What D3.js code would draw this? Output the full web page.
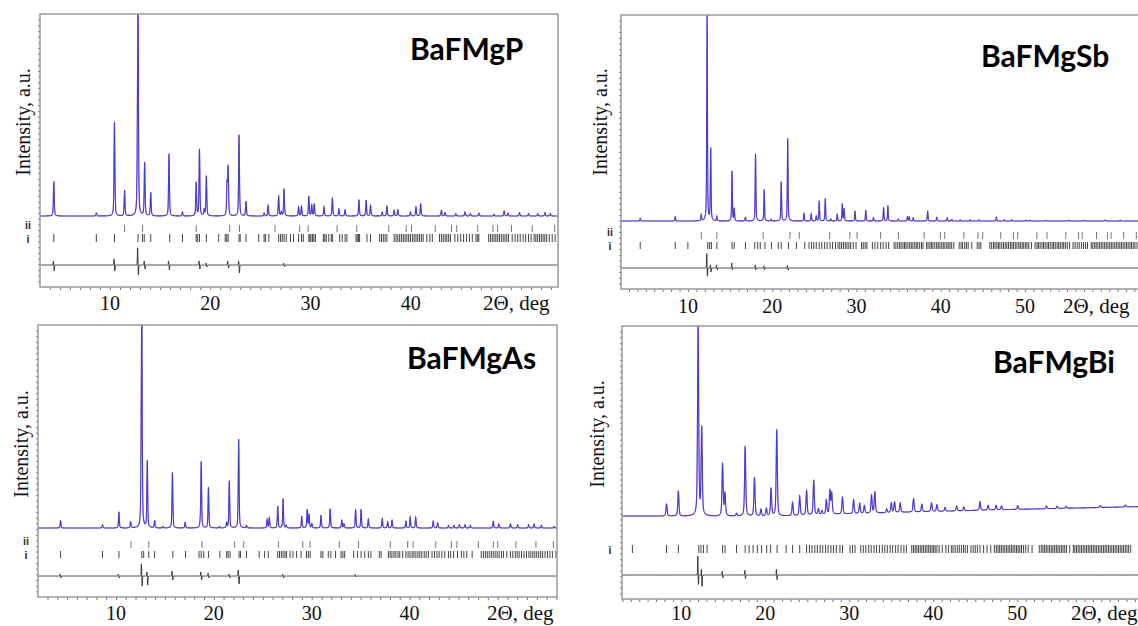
<!DOCTYPE html>
<html>
<head>
<meta charset="utf-8">
<script src="https://d3js.org/d3.v7.min.js"></script>
<style>
  body { margin: 0; background: #fff; }
  svg { display: block; }
</style>
</head>
<body>
<div id="chart"></div>
<script>
// ---- data (2theta in deg, intensity relative to strongest peak) ----

// BaFMgP
const pRange = [3.02, 54.7];
const pPeaks = [[4.40,0.17],[8.64,0.015],[10.45,0.466],[11.46,0.127],[12.74,0.2],[12.80,1.0],[13.46,0.264],[14.07,0.116],[15.89,0.309],[17.23,0.02],[18.60,0.165],[18.93,0.33],[19.40,0.03],[19.62,0.198],[21.68,0.155],[21.79,0.235],[22.88,0.403],[23.57,0.073],[25.38,0.015],[25.78,0.053],[26.83,0.1],[27.10,0.02],[27.37,0.135],[28.82,0.045],[29.11,0.048],[29.84,0.098],[30.13,0.053],[30.38,0.06],[31.36,0.045],[32.19,0.09],[32.84,0.036],[33.46,0.031],[34.84,0.081],[35.56,0.078],[36.0,0.053],[37.16,0.02],[37.63,0.048],[38.35,0.028],[38.72,0.031],[39.98,0.02],[40.53,0.045],[41.0,0.061],[43.07,0.028],[43.43,0.017],[44.51,0.012],[45.42,0.02],[45.96,0.012],[46.8,0.015],[48.32,0.008],[49.33,0.025],[49.7,0.015],[50.86,0.017],[51.76,0.012],[52.67,0.012],[53.39,0.017],[53.94,0.012]];
const pTicksI = [4.40,8.64,10.45,12.80,13.24,13.42,14.07,15.96,17.23,18.60,18.75,18.93,19.62,20.85,21.50,21.65,21.79,22.88,22.99,23.57,24.84,25.38,25.53,25.85,26.83,27.01,27.19,27.37,27.59,28.02,28.31,28.82,29.11,29.29,29.84,29.95,30.05,30.20,30.34,30.49,31.29,31.43,31.58,31.83,32.08,32.19,32.92,33.17,33.46,33.64,34.55,34.66,34.80,34.91,35.64,36.00,36.90,37.09,37.27,37.45,37.63,38.35,38.54,38.72,38.90,39.08,39.26,39.44,39.62,39.80,39.98,40.17,40.35,40.53,40.71,40.89,41.07,41.25,41.61,41.91,42.16,42.88,43.07,43.25,43.43,43.61,43.79,43.97,44.41,44.70,44.99,45.28,45.57,45.86,46.15,46.51,46.69,46.80,47.78,47.96,48.14,48.32,48.50,48.68,48.86,49.04,49.23,49.41,49.59,49.77,50.13,50.42,50.68,50.93,51.22,51.47,51.76,52.02,52.31,52.49,52.67,52.85,53.03,53.21,53.39,53.57,53.83,54.12,54.41];
const pTicksII = [11.46,13.24,18.60,21.94,22.92,26.47,28.93,29.77,32.66,34.62,37.81,39.55,40.09,42.45,44.08,44.59,46.69,48.21,48.68,50.06,52.13,54.37];
const pDiff = [[4.40,0.02,0.03],[10.45,0.03,0.03],[12.80,0.085,0.05],[13.46,0.02,0.02],[15.89,0.02,0.025],[18.93,0.02,0.02],[19.62,0.01,0.01],[21.79,0.02,0.015],[22.88,0.02,0.04],[27.37,0.01,0.01]];

// BaFMgSb
const sbRange = [2.05, 64.25];
const sbPeaks = [[4.33,0.013],[8.49,0.021],[11.58,0.03],[12.27,1.0],[12.70,0.35],[13.43,0.02],[15.23,0.24],[15.49,0.06],[16.82,0.018],[18.02,0.326],[19.05,0.154],[19.87,0.008],[21.07,0.19],[21.84,0.40],[23.77,0.037],[24.63,0.034],[25.23,0.024],[25.58,0.097],[26.30,0.11],[26.95,0.01],[27.72,0.032],[28.32,0.083],[28.54,0.06],[29.83,0.049],[31.11,0.053],[32.02,0.016],[33.22,0.066],[33.73,0.075],[34.98,0.01],[36.05,0.021],[36.27,0.02],[36.74,0.016],[38.45,0.049],[39.53,0.018],[40.77,0.016],[41.33,0.008],[42.32,0.006],[43.48,0.006],[44.55,0.006],[46.61,0.018],[47.56,0.006],[48.41,0.006],[50.13,0.005],[50.6,0.004],[52.5,0.004],[55.2,0.004],[57.0,0.004],[59.5,0.005],[61.3,0.004]];
const sbTicksI = [4.33,8.49,9.99,12.35,12.57,12.78,13.43,15.23,15.49,16.82,17.93,18.28,18.58,19.14,19.91,20.72,21.07,21.93,22.87,23.86,24.37,24.67,24.93,25.23,25.58,25.88,26.22,26.52,26.86,27.16,27.51,27.81,28.02,28.24,28.45,28.67,28.88,29.10,29.31,29.61,29.95,30.60,30.81,31.03,31.24,31.89,32.19,32.53,32.87,33.17,33.52,33.82,34.46,34.68,34.9,35.12,35.3,35.52,35.7,35.88,36.1,36.32,36.5,36.7,36.92,37.1,37.28,37.5,37.72,37.9,38.33,38.5,38.72,38.9,39.08,39.3,39.52,39.7,39.9,40.12,40.3,40.5,40.72,40.9,41.1,41.3,41.55,42.19,42.42,42.6,42.85,43.05,43.26,43.69,44.34,44.55,44.76,45.84,46.05,46.27,46.45,46.66,46.85,47.03,47.25,47.45,47.66,47.85,48.05,48.27,48.45,48.64,48.85,49.05,49.27,49.45,49.66,49.85,50.05,50.24,50.45,50.77,51.2,51.42,51.6,51.8,52.02,52.2,52.4,52.62,52.8,53.0,53.22,53.4,53.6,53.82,54.0,54.2,54.42,54.6,54.8,55.02,55.28,55.71,55.95,56.2,56.45,56.7,56.95,57.2,57.43,57.86,58.05,58.27,58.45,58.65,58.86,59.05,59.25,59.46,59.65,59.85,60.06,60.25,60.45,60.66,60.85,61.05,61.26,61.45,61.65,61.86,62.05,62.25,62.46,62.65,62.85,63.05,63.3];
const sbTicksII = [11.58,13.43,18.92,22.10,23.21,26.82,29.22,30.08,32.87,34.98,38.03,39.96,40.47,42.75,44.42,44.98,47.13,48.63,49.14,51.42,52.62,54.85,56.36,56.79,58.50,59.79,60.22,61.72,63.22];
const sbDiff = [[12.27,0.07,0.04],[12.70,0.015,0.02],[13.43,0.015,0.01],[15.23,0.025,0.01],[18.02,0.015,0.01],[19.05,0.01,0.01],[21.84,0.012,0.01]];

// BaFMgAs
const asRange = [2.03, 55.07];
const asPeaks = [[4.34,0.035],[8.62,0.016],[10.30,0.079],[11.49,0.03],[12.58,0.25],[12.64,1.0],[13.20,0.33],[13.95,0.035],[14.8,0.008],[15.77,0.273],[17.07,0.028],[18.6,0.015],[18.71,0.326],[19.45,0.2],[20.57,0.008],[21.31,0.025],[21.58,0.232],[22.54,0.438],[23.33,0.013],[25.45,0.043],[25.67,0.05],[26.53,0.108],[27.08,0.145],[27.4,0.013],[28.98,0.058],[29.54,0.09],[29.73,0.067],[30.02,0.021],[30.95,0.063],[31.89,0.095],[33.08,0.038],[33.30,0.02],[34.49,0.09],[35.05,0.092],[35.79,0.043],[37.21,0.046],[37.77,0.03],[38.21,0.038],[39.63,0.033],[40.07,0.054],[40.63,0.054],[42.42,0.035],[42.87,0.025],[43.98,0.013],[44.54,0.013],[45.10,0.016],[45.66,0.016],[46.22,0.013],[48.56,0.033],[49.12,0.02],[50.31,0.02],[51.05,0.016],[52.17,0.016],[52.73,0.02],[53.47,0.013],[54.78,0.008]];
const asTicksI = [4.34,8.62,10.30,12.64,12.83,13.35,13.95,15.81,17.11,18.49,18.71,18.97,19.45,20.61,21.31,21.46,21.65,22.58,22.73,23.33,24.63,25.19,25.56,26.53,26.71,26.90,27.08,27.27,27.42,27.79,28.09,28.46,28.91,29.47,29.65,29.84,30.95,31.14,31.70,31.96,32.44,33.00,33.19,33.37,34.30,34.68,35.05,35.42,35.79,36.05,36.91,37.10,37.84,38.02,38.2,38.41,38.6,38.82,39.0,39.3,39.63,39.85,40.05,40.27,40.45,40.65,40.86,41.05,41.25,41.5,41.7,41.93,42.3,42.55,42.8,43.02,43.3,43.6,43.98,44.2,44.5,44.9,45.3,45.55,45.85,46.4,47.33,47.55,47.75,47.95,48.15,48.36,48.55,48.75,48.95,49.15,49.4,49.6,49.94,50.31,50.55,50.8,51.0,51.2,51.45,51.7,51.95,52.2,52.4,52.6,52.8,53.0,53.2,53.4,53.6,53.85,54.1,54.35,54.6,54.96];
const asTicksII = [11.53,13.35,18.78,22.13,23.06,26.60,29.09,29.84,32.82,34.79,38.03,39.81,40.37,42.68,44.28,44.84,47.03,48.56,49.01,50.87,52.92,54.70];
const asDiff = [[4.34,0.01,0.01],[10.30,0.01,0.01],[12.64,0.06,0.05],[13.20,0.02,0.045],[15.77,0.025,0.02],[18.71,0.02,0.02],[19.45,0.015,0.01],[21.58,0.01,0.01],[22.54,0.03,0.04],[27.08,0.01,0.01],[34.49,0.008,0.005]];

// BaFMgBi
const biRange = [2.95, 65.2];
const biPeaks = [[8.25,0.063],[9.66,0.132],[12.01,1.0],[12.44,0.458],[14.92,0.274],[15.21,0.116],[16.58,0.014],[17.61,0.365],[18.72,0.204],[19.49,0.035],[20.13,0.039],[20.69,0.146],[21.37,0.453],[23.25,0.07],[24.10,0.102],[24.92,0.128],[25.77,0.184],[26.33,0.03],[26.75,0.02],[27.27,0.075],[27.69,0.123],[27.91,0.11],[29.19,0.088],[30.52,0.072],[31.24,0.054],[31.80,0.04],[32.65,0.093],[33.04,0.11],[34.45,0.02],[35.00,0.05],[35.39,0.055],[36.07,0.05],[37.65,0.07],[38.64,0.04],[39.79,0.045],[40.43,0.035],[41.41,0.02],[42.78,0.025],[43.64,0.02],[45.56,0.045],[46.54,0.025],[47.48,0.025],[48.12,0.02],[50.05,0.02],[53.47,0.015],[54.75,0.012],[55.82,0.01],[59.88,0.01],[62.87,0.01]];
const biBackground = [[2.95,0],[22,0],[30,0.012],[40,0.024],[50,0.035],[65.2,0.05]];
const biTicksI = [4.19,8.25,9.66,12.09,12.35,12.65,13.08,14.92,15.21,16.58,17.61,18.08,18.55,19.06,19.57,20.17,20.64,21.41,22.48,23.25,24.10,24.92,25.26,25.56,25.90,26.20,26.54,26.84,27.18,27.48,27.82,28.12,28.46,28.89,29.19,30.09,30.39,30.69,31.37,31.67,31.97,32.31,32.61,32.95,33.25,33.59,33.93,34.23,34.53,34.87,35.17,35.52,35.81,36.16,36.50,36.80,37.44,37.65,37.85,38.05,38.25,38.45,38.65,38.85,39.05,39.25,39.45,39.65,39.85,40.05,40.22,40.43,40.7,41.07,41.5,41.8,42.14,42.35,42.6,42.85,43.1,43.35,43.6,43.8,44.06,44.49,44.75,45.0,45.25,45.56,45.99,46.4,46.84,47.27,47.5,47.7,47.9,48.1,48.3,48.5,48.7,48.9,49.1,49.3,49.5,49.7,49.9,50.1,50.3,50.5,50.75,51.0,51.3,51.76,52.61,52.85,53.05,53.25,53.45,53.65,53.85,54.05,54.25,54.45,54.65,54.85,55.05,55.25,55.45,55.65,55.85,56.24,56.67,56.85,57.05,57.25,57.45,57.65,57.85,58.05,58.25,58.45,58.65,58.85,59.05,59.25,59.45,59.65,59.85,60.05,60.25,60.45,60.65,60.85,61.05,61.25,61.45,61.65,61.85,62.05,62.25,62.45,62.65,62.85,63.05,63.25,63.5];
const biDiff = [[12.01,0.1,0.05],[12.44,0.03,0.06],[14.92,0.02,0.015],[17.61,0.025,0.02],[21.37,0.03,0.025]];

const labelsPI = [10, 20, 30, 40];
const labelsSbBi = [10, 20, 30, 40, 50];

// ---- layout ----
const width = 1138, height = 626;
const panels = [
  {name: "BaFMgP", range: pRange, peaks: pPeaks, ticksI: pTicksI, ticksII: pTicksII, diff: pDiff, labels: labelsPI, fwhm: 0.1,
   left: 40, right: 558, top: 14, bottom: 287, base: 216, rowII: [225, 232], rowI: [234, 242], zero: 265,
   titleX: 410, titleY: 60, yLabX: 30, yLabY: 122, rowLabX: 28, tickY: 310, xLabX: 483},
  {name: "BaFMgSb", range: sbRange, peaks: sbPeaks, ticksI: sbTicksI, ticksII: sbTicksII, diff: sbDiff, labels: labelsSbBi, fwhm: 0.1,
   left: 621, right: 1145, top: 15, bottom: 289, base: 221, rowII: [232, 239], rowI: [242, 249], zero: 268,
   titleX: 981, titleY: 67, yLabX: 607, yLabY: 122, rowLabX: 610, tickY: 313, xLabX: 1063},
  {name: "BaFMgAs", range: asRange, peaks: asPeaks, ticksI: asTicksI, ticksII: asTicksII, diff: asDiff, labels: labelsPI, fwhm: 0.1,
   left: 38, right: 557, top: 325, bottom: 597, base: 528, rowII: [541, 548], rowI: [551, 558], zero: 576,
   titleX: 407, titleY: 369, yLabX: 28, yLabY: 444, rowLabX: 26, tickY: 620, xLabX: 487},
  {name: "BaFMgBi", range: biRange, peaks: biPeaks, ticksI: biTicksI, ticksII: null, diff: biDiff, bg: biBackground, labels: labelsSbBi, fwhm: 0.16,
   left: 622, right: 1145, top: 326, bottom: 599, base: 516, rowII: null, rowI: [545, 553], zero: 575,
   titleX: 993, titleY: 373, yLabX: 604, yLabY: 434, rowLabX: 610, tickY: 620, xLabX: 1071}
];

const svg = d3.select("#chart").append("svg")
  .attr("width", width)
  .attr("height", height);

// pseudo-Voigt peak shape
function pv(dx, w) {
  const t = 4 * (dx / w) * (dx / w);
  return 0.5 / (1 + t) + 0.5 * Math.exp(-Math.LN2 * t);
}

// difference: a spike up then a spike down at each misfit
function diffAt(list, x) {
  let s = 0;
  list.forEach(([c, up, down]) => {
    const a = (x - c + 0.04) / 0.035, b = (x - c - 0.04) / 0.035;
    s += up * Math.exp(-a * a) - down * Math.exp(-b * b);
  });
  return s;
}

const serif = "'Liberation Serif', 'Times New Roman', serif";

panels.forEach((p, i) => {
  const x = d3.scaleLinear().domain(p.range).range([p.left, p.right]);
  const y = d3.scaleLinear().domain([0, 1]).range([p.base, p.top]);
  const bgScale = p.bg ? d3.scaleLinear().domain(p.bg.map(d => d[0])).range(p.bg.map(d => d[1])) : () => 0;

  const grid = d3.range(p.range[0], p.range[1], 0.01);
  const calc = grid.map(t => {
    let s = bgScale(t);
    p.peaks.forEach(([c, h]) => {
      const dx = t - c;
      if (Math.abs(dx) < 1.5) s += h * pv(dx, p.fwhm);
    });
    return s;
  });
  const dif = grid.map(t => diffAt(p.diff, t));
  const obs = calc.map((v, k) => v + dif[k]);

  const g = svg.append("g");
  const clipId = "clip" + i;
  g.append("clipPath").attr("id", clipId)
    .append("rect").attr("x", p.left).attr("y", p.top)
    .attr("width", p.right - p.left).attr("height", p.bottom - p.top);

  const plot = g.append("g").attr("clip-path", `url(#${clipId})`);

  const line = d3.line().x((d, k) => x(grid[k])).y(d => y(d));

  plot.append("path").datum(obs)
    .attr("fill", "none").attr("stroke", "#e050e0").attr("stroke-width", 0.7)
    .attr("d", line);
  plot.append("path").datum(calc)
    .attr("fill", "none").attr("stroke", "#3f3fd2").attr("stroke-width", 1.1)
    .attr("d", line);

  // difference curve
  const dline = d3.line().x((d, k) => x(grid[k])).y(d => p.zero - (p.base - y(d)));
  plot.append("path").datum(dif)
    .attr("fill", "none").attr("stroke", "#333").attr("stroke-width", 1)
    .attr("d", dline);

  // reflection marks
  plot.append("g").selectAll("line").data(p.ticksI).enter().append("line")
    .attr("x1", d => x(d)).attr("x2", d => x(d))
    .attr("y1", p.rowI[0]).attr("y2", p.rowI[1])
    .attr("stroke", "#444").attr("stroke-width", 1);
  if (p.ticksII) {
    plot.append("g").selectAll("line").data(p.ticksII).enter().append("line")
      .attr("x1", d => x(d)).attr("x2", d => x(d))
      .attr("y1", p.rowII[0]).attr("y2", p.rowII[1])
      .attr("stroke", "#777").attr("stroke-width", 1);
    g.append("text").attr("x", p.rowLabX).attr("y", p.rowII[0] + 4)
      .attr("text-anchor", "middle")
      .style("font-family", "'Liberation Sans', Arial, sans-serif").style("font-weight", "bold").style("font-size", "11px")
      .attr("fill", "#333").text("ii");
  }
  g.append("text").attr("x", p.rowLabX).attr("y", p.rowI[1] + 1)
    .attr("text-anchor", "middle")
    .style("font-family", "'Liberation Sans', Arial, sans-serif").style("font-weight", "bold").style("font-size", "11px")
    .attr("fill", "#333").text("i");

  // axes: short outward ticks only
  const bottomAx = g.append("g").attr("transform", `translate(0,${p.bottom})`)
    .call(d3.axisBottom(x).tickValues(d3.range(Math.ceil(p.range[0]), p.range[1], 1)).tickSize(3).tickFormat(""));
  const yTickScale = d3.scaleLinear().domain([0, 48]).range([p.bottom, p.top]);
  const leftAx = g.append("g").attr("transform", `translate(${p.left},0)`)
    .call(d3.axisLeft(yTickScale).tickValues(d3.range(1, 48)).tickSize(2).tickFormat(""));
  [bottomAx, leftAx].forEach(a => {
    a.select(".domain").remove();
    a.selectAll(".tick line").attr("stroke", "#777");
  });

  g.append("rect")
    .attr("x", p.left).attr("y", p.top)
    .attr("width", p.right - p.left).attr("height", p.bottom - p.top)
    .attr("fill", "none").attr("stroke", "#9a9a9a").attr("stroke-width", 1.5);

  // tick labels
  g.append("g").selectAll("text").data(p.labels).enter().append("text")
    .attr("x", d => x(d)).attr("y", p.tickY)
    .attr("text-anchor", "middle")
    .style("font-family", serif).style("font-size", "20px")
    .attr("fill", "#111").text(d => d);

  g.append("text").attr("x", p.xLabX).attr("y", p.tickY)
    .style("font-family", serif).style("font-size", "21px")
    .attr("fill", "#111").text("2\u0398, deg");

  g.append("text")
    .attr("transform", `translate(${p.yLabX},${p.yLabY}) rotate(-90)`)
    .attr("text-anchor", "middle")
    .style("font-family", serif).style("font-size", "20px")
    .attr("fill", "#111").text("Intensity, a.u.");

  g.append("text").attr("x", p.titleX).attr("y", p.titleY)
    .style("font-family", "Lato, 'Open Sans', sans-serif").style("font-weight", "bold").style("font-size", "30px")
    .attr("fill", "#000").text(p.name);
});
</script>
</body>
</html>
